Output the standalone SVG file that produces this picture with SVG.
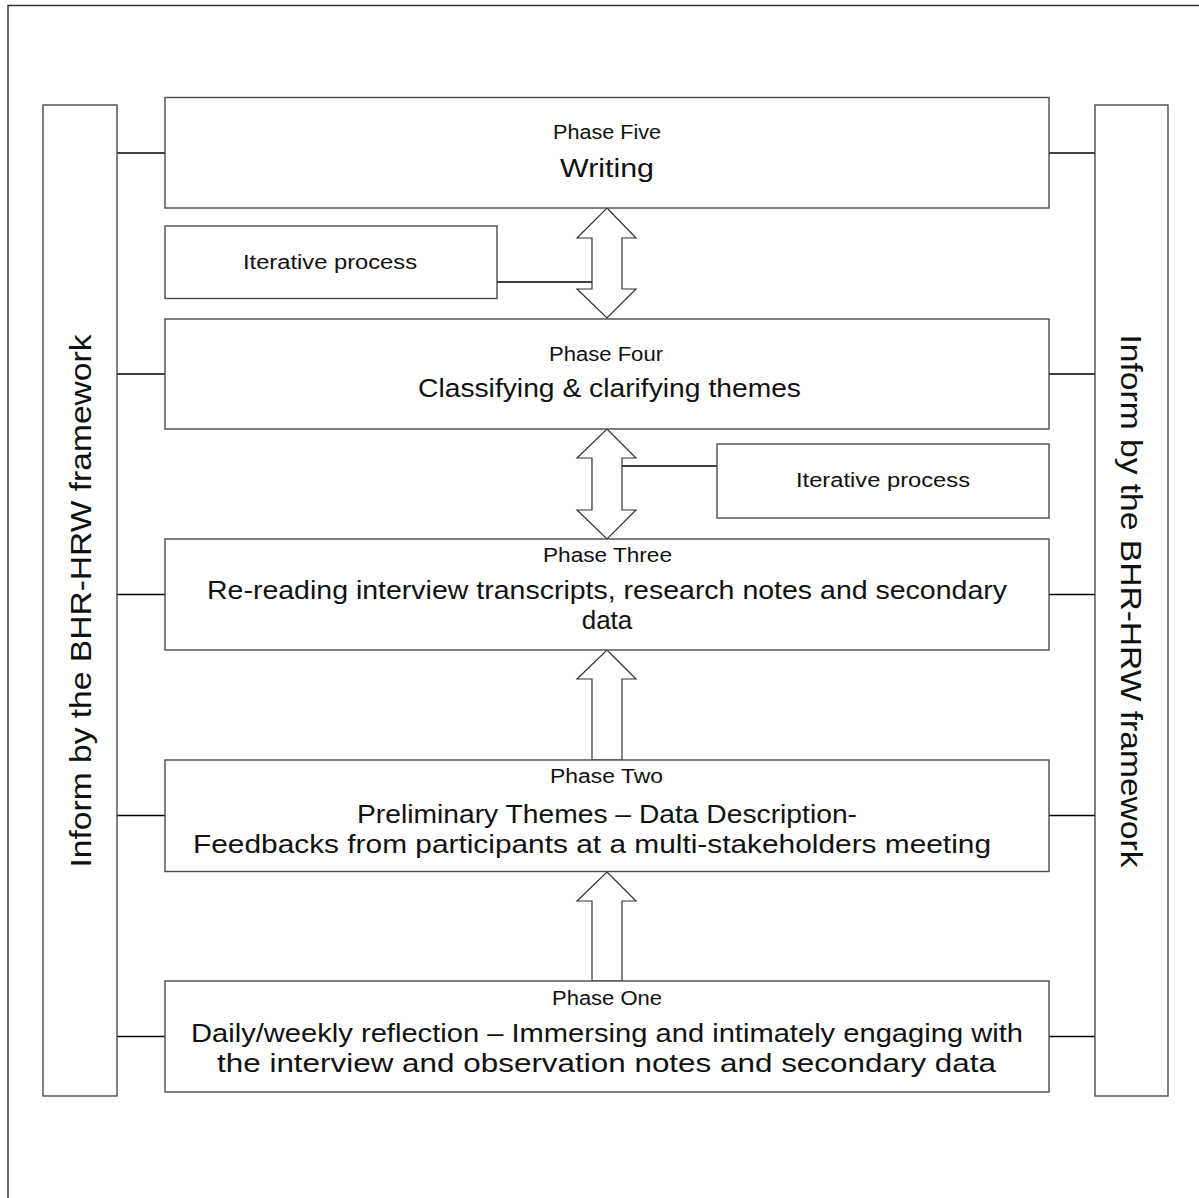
<svg xmlns="http://www.w3.org/2000/svg" width="1199" height="1198" viewBox="0 0 1199 1198">
  <style>
    .box { fill: #fff; stroke: #4a4a4a; stroke-width: 1.4; }
    .link { stroke: #000; stroke-width: 1.6; fill: none; }
    .arrow { fill: #fff; stroke: #333; stroke-width: 1.2; stroke-linejoin: miter; }
    text { font-family: "Liberation Sans", Arial, sans-serif; fill: #111; text-anchor: middle; }
    .small { font-size: 19.5px; }
    .main { font-size: 26px; }
    .side { font-size: 30px; }
  </style>

  <!-- page frame (top and left edges) -->
  <polyline points="8,1198 8,5.5 1199,5.5" fill="none" stroke="#333" stroke-width="1.4"/>

  <!-- connectors -->
  <g id="connectors">
    <line class="link" x1="117" y1="153" x2="165" y2="153"/>
    <line class="link" x1="117" y1="374" x2="165" y2="374"/>
    <line class="link" x1="117" y1="594.5" x2="165" y2="594.5"/>
    <line class="link" x1="117" y1="815.5" x2="165" y2="815.5"/>
    <line class="link" x1="117" y1="1036.5" x2="165" y2="1036.5"/>
    <line class="link" x1="1049" y1="153" x2="1095" y2="153"/>
    <line class="link" x1="1049" y1="374" x2="1095" y2="374"/>
    <line class="link" x1="1049" y1="594.5" x2="1095" y2="594.5"/>
    <line class="link" x1="1049" y1="815.5" x2="1095" y2="815.5"/>
    <line class="link" x1="1049" y1="1036.5" x2="1095" y2="1036.5"/>
    <line class="link" x1="497" y1="282" x2="592" y2="282"/>
    <line class="link" x1="622" y1="466" x2="717" y2="466"/>
    <!-- block arrows between phases -->
    <polygon class="arrow" points="607,208 636,238 622,238 622,289 636,289 607,318 577,289 592,289 592,238 577,238"/>
    <polygon class="arrow" points="607,429 636,458 622,458 622,510 636,510 607,539 577,510 592,510 592,458 577,458"/>
    <polygon class="arrow" points="607,650 636,679 622,679 622,760 592,760 592,679 577,679"/>
    <polygon class="arrow" points="607,872 636,901 622,901 622,981 592,981 592,901 577,901"/>
  </g>

  <g id="side-left">
    <rect class="box" x="43" y="105" width="74" height="991"/>
    <text class="side" transform="translate(91,601) rotate(-90)" textLength="533" lengthAdjust="spacingAndGlyphs">Inform by the BHR-HRW framework</text>
  </g>

  <g id="side-right">
    <rect class="box" x="1095" y="105" width="73" height="991"/>
    <text class="side" transform="translate(1121,601) rotate(90)" textLength="533" lengthAdjust="spacingAndGlyphs">Inform by the BHR-HRW framework</text>
  </g>

  <g id="phase-five">
    <rect class="box" x="165" y="97.5" width="884" height="110.5"/>
    <text class="small" x="607" y="139" textLength="108" lengthAdjust="spacingAndGlyphs">Phase Five</text>
    <text class="main" x="607" y="177" textLength="94" lengthAdjust="spacingAndGlyphs">Writing</text>
  </g>

  <g id="iterative-1">
    <rect class="box" x="165" y="226" width="332" height="72.5"/>
    <text class="small" x="330" y="269" textLength="174" lengthAdjust="spacingAndGlyphs">Iterative process</text>
  </g>

  <g id="phase-four">
    <rect class="box" x="165" y="319" width="884" height="110"/>
    <text class="small" x="606" y="361" textLength="114" lengthAdjust="spacingAndGlyphs">Phase Four</text>
    <text class="main" x="609.5" y="397" textLength="383" lengthAdjust="spacingAndGlyphs">Classifying &amp; clarifying themes</text>
  </g>

  <g id="iterative-2">
    <rect class="box" x="717" y="444" width="332" height="74"/>
    <text class="small" x="883" y="487" textLength="174" lengthAdjust="spacingAndGlyphs">Iterative process</text>
  </g>

  <g id="phase-three">
    <rect class="box" x="165" y="539" width="884" height="111"/>
    <text class="small" x="607.5" y="562" textLength="129" lengthAdjust="spacingAndGlyphs">Phase Three</text>
    <text class="main" x="607" y="599" textLength="800" lengthAdjust="spacingAndGlyphs">Re-reading interview transcripts, research notes and secondary</text>
    <text class="main" x="607" y="629">data</text>
  </g>

  <g id="phase-two">
    <rect class="box" x="165" y="760" width="884" height="111.5"/>
    <text class="small" x="606.5" y="783" textLength="113" lengthAdjust="spacingAndGlyphs">Phase Two</text>
    <text class="main" x="607" y="823" textLength="500" lengthAdjust="spacingAndGlyphs">Preliminary Themes – Data Description-</text>
    <text class="main" x="592" y="853" textLength="798" lengthAdjust="spacingAndGlyphs">Feedbacks from participants at a multi-stakeholders meeting</text>
  </g>

  <g id="phase-one">
    <rect class="box" x="165" y="981" width="884" height="111"/>
    <text class="small" x="607" y="1005" textLength="110" lengthAdjust="spacingAndGlyphs">Phase One</text>
    <text class="main" x="607" y="1042" textLength="832" lengthAdjust="spacingAndGlyphs">Daily/weekly reflection – Immersing and intimately engaging with</text>
    <text class="main" x="606.5" y="1072" textLength="779" lengthAdjust="spacingAndGlyphs">the interview and observation notes and secondary data</text>
  </g>
</svg>
